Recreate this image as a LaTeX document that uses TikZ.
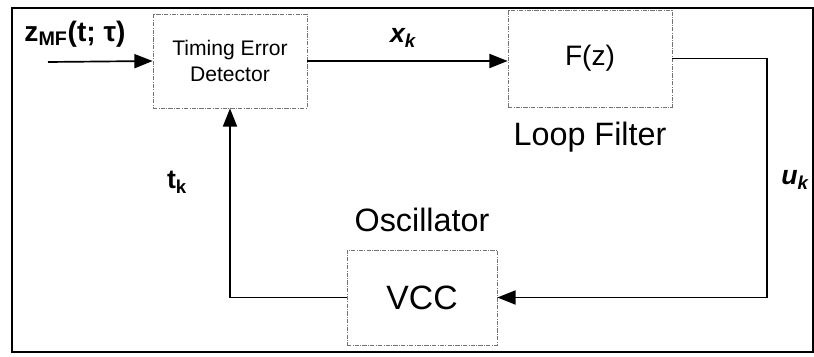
\documentclass[tikz,border=0pt]{standalone}
\usepackage{fontspec}
\setmainfont{Liberation Sans}
\usetikzlibrary{calc}
\usetikzlibrary{arrows.meta}
\usetikzlibrary{positioning}

\tikzset{
  bloc/.style={draw=black!55, line width=0.5pt, densely dash dot, align=center, inner sep=0pt},
  liaison/.style={line width=1.2pt},
  fleche/.style={liaison, -{Triangle[length=13pt,width=10pt]}},
  signal/.style={font=\fontsize{19}{21}\selectfont\bfseries}
}

\begin{document}
\begin{tikzpicture}[x=0.025cm,y=0.025cm]

%Cadre général
\useasboundingbox (0,0) rectangle (814,356);
\draw[line width=1.5pt] (12,4) rectangle (813,348);

%%%%%%%%%%%%%%%%%%%%%%%%
%Les blocs
%%%%%%%%%%%%%%%%%%%%%%%%

    \def \TailleBloc {\fontsize{15}{18}\selectfont}
    \def \TailleTitre {\fontsize{23}{26}\selectfont}

\node[bloc, minimum width=154*0.025cm, minimum height=94*0.025cm, font=\TailleBloc] (ted) at (230,295) {Timing Error\\Detector};
\node[bloc, minimum width=164*0.025cm, minimum height=97*0.025cm, font=\fontsize{20}{22}\selectfont] (filt) at (590,297.5) {F(z)};
\node[bloc, minimum width=150*0.025cm, minimum height=95*0.025cm, font=\fontsize{24}{26}\selectfont] (vcc) at (422,58.5) {VCC};

%titres des blocs
\node[font=\TailleTitre, below=10*0.025cm of filt] (titreFilt) {Loop Filter};
\node[font=\TailleTitre, above=13*0.025cm of vcc] (titreVcc) {Oscillator};

%%%%%%%%%%%%%%%%%%%%%%%%
%Les liaisons
%%%%%%%%%%%%%%%%%%%%%%%%

\coordinate (entree) at (48,294);
\coordinate (coin) at (767,0);
\draw[fleche] (entree) -- (ted.west);
\draw[fleche] (ted.east) -- (ted.east -| filt.west);
\draw[fleche] (filt.east) -- (filt.east -| coin) |- (vcc.east);
\draw[fleche] (vcc.west) -| (ted.south);

%étiquettes des signaux
\node[signal, font=\fontsize{20}{22}\selectfont\bfseries] (zmf) at (75,322) {z\textsubscript{MF}(t; τ)};
\node[signal, font=\fontsize{19}{21}\selectfont\bfseries\itshape] (xk) at (403,318) {x\textsubscript{k}};
\node[signal, font=\fontsize{19}{21}\selectfont\bfseries\itshape] (uk) at (795,176) {u\textsubscript{k}};
\node[signal] (tk) at (177,174) {t\textsubscript{k}};

\end{tikzpicture}
\end{document}
